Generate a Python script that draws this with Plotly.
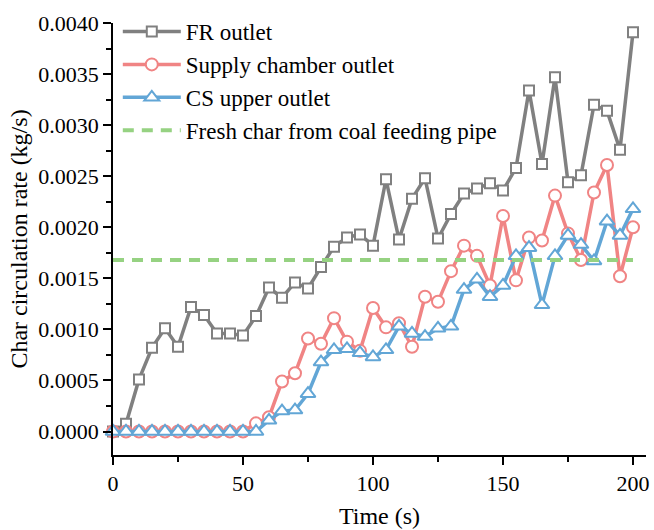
import plotly.graph_objects as go

time_s = [0, 5, 10, 15, 20, 25, 30, 35, 40, 45, 50, 55, 60, 65, 70, 75, 80, 85, 90, 95,
          100, 105, 110, 115, 120, 125, 130, 135, 140, 145, 150, 155, 160, 165, 170, 175,
          180, 185, 190, 195, 200]

fr_outlet = [0.0, 0.000076, 0.00051, 0.00082, 0.00101, 0.00083, 0.00122, 0.00114, 0.00096,
             0.00096, 0.00094, 0.00113, 0.00141, 0.00131, 0.00146, 0.00140, 0.00161, 0.00181,
             0.00190, 0.00193, 0.00182, 0.00247, 0.00188, 0.00228, 0.00248, 0.00189, 0.00213,
             0.00233, 0.00238, 0.00243, 0.00236, 0.00258, 0.00334, 0.00262, 0.00347, 0.00244,
             0.00251, 0.00320, 0.00314, 0.00276, 0.00391]

supply_outlet = [0.0, 0.0, 0.0, 0.0, 0.0, 0.0, 0.0, 0.0, 0.0, 0.0, 0.0,
                 0.00008, 0.00014, 0.00049, 0.00057, 0.00091, 0.00086, 0.00111, 0.00088,
                 0.00079, 0.00121, 0.00102, 0.00106, 0.00083, 0.00132, 0.00127, 0.00157,
                 0.00182, 0.00172, 0.00143, 0.00211, 0.00148, 0.00190, 0.00187, 0.00231,
                 0.00194, 0.00168, 0.00234, 0.00261, 0.00152, 0.00200]

cs_upper_outlet = [0.0, 0.0, 0.0, 0.0, 0.0, 0.0, 0.0, 0.0, 0.0, 0.0, 0.0, 0.0,
                   0.00011, 0.00020, 0.00021, 0.00037, 0.00068, 0.00080, 0.00081, 0.00077,
                   0.00073, 0.00080, 0.00103, 0.00096, 0.00093, 0.00101, 0.00103, 0.00139,
                   0.00149, 0.00132, 0.00143, 0.00172, 0.00180, 0.00124, 0.00172, 0.00192,
                   0.00183, 0.00167, 0.00206, 0.00192, 0.00218]

fresh_time = [0, 200]
fresh_char = [0.00168, 0.00168]

x_ticks = [0, 50, 100, 150, 200]
y_ticks = [0.0, 0.0005, 0.0010, 0.0015, 0.0020, 0.0025, 0.0030, 0.0035, 0.0040]

GRAY = "rgb(128,128,128)"
PINK = "rgb(240,132,132)"
BLUE = "rgb(98,166,214)"
GREEN = "rgb(150,210,130)"
FONT = "Liberation Serif"

fig = go.Figure()
fig.add_trace(go.Scatter(
    x=time_s, y=fr_outlet, name="FR outlet", mode="lines+markers",
    line=dict(color=GRAY, width=3.5),
    marker=dict(symbol="square", size=10, color="white", line=dict(color=GRAY, width=2)),
    cliponaxis=False))
fig.add_trace(go.Scatter(
    x=time_s, y=supply_outlet, name="Supply chamber outlet", mode="lines+markers",
    line=dict(color=PINK, width=3.5),
    marker=dict(symbol="circle", size=12, color="white", line=dict(color=PINK, width=2)),
    cliponaxis=False))
fig.add_trace(go.Scatter(
    x=time_s, y=cs_upper_outlet, name="CS upper outlet", mode="lines+markers",
    line=dict(color=BLUE, width=3.5),
    marker=dict(symbol="triangle-up", size=13, color="white", line=dict(color=BLUE, width=2)),
    cliponaxis=False))
fig.add_trace(go.Scatter(
    x=fresh_time, y=fresh_char, name="Fresh char from coal feeding pipe", mode="lines",
    line=dict(color=GREEN, width=4, dash="11px,8px")))

axis_common = dict(
    showline=True, linecolor="black", linewidth=1.5,
    ticks="outside", ticklen=8, tickwidth=1.5, tickcolor="black",
    showgrid=False, zeroline=False, mirror=False,
    tickfont=dict(family=FONT, size=22, color="black"),
)

fig.update_layout(
    width=654, height=530,
    margin=dict(l=113, r=5, t=23, b=75),
    paper_bgcolor="white", plot_bgcolor="white",
    font=dict(family=FONT, color="black"),
    showlegend=True,
    legend=dict(
        x=0.009, y=1.03, xanchor="left", yanchor="top",
        bgcolor="rgba(0,0,0,0)", borderwidth=0,
        font=dict(family=FONT, size=23, color="black"),
        itemwidth=58, tracegroupgap=0,
    ),
    xaxis=dict(
        **axis_common,
        range=[0, 205],
        tickvals=x_ticks, ticktext=[str(v) for v in x_ticks],
        minor=dict(ticks="outside", ticklen=5, tickwidth=1.5, tickcolor="black", dtick=25, tick0=0),
        title=dict(text="Time (s)", font=dict(family=FONT, size=24, color="black"), standoff=12),
    ),
    yaxis=dict(
        **axis_common,
        range=[-0.00023, 0.0040],
        tickvals=y_ticks, ticktext=[f"{v:.4f}" for v in y_ticks],
        minor=dict(ticks="outside", ticklen=5, tickwidth=1.5, tickcolor="black", dtick=0.00025, tick0=0),
        title=dict(text="Char circulation rate (kg/s)", font=dict(family=FONT, size=24, color="black"), standoff=4),
    ),
)

fig.write_html("out.html")
